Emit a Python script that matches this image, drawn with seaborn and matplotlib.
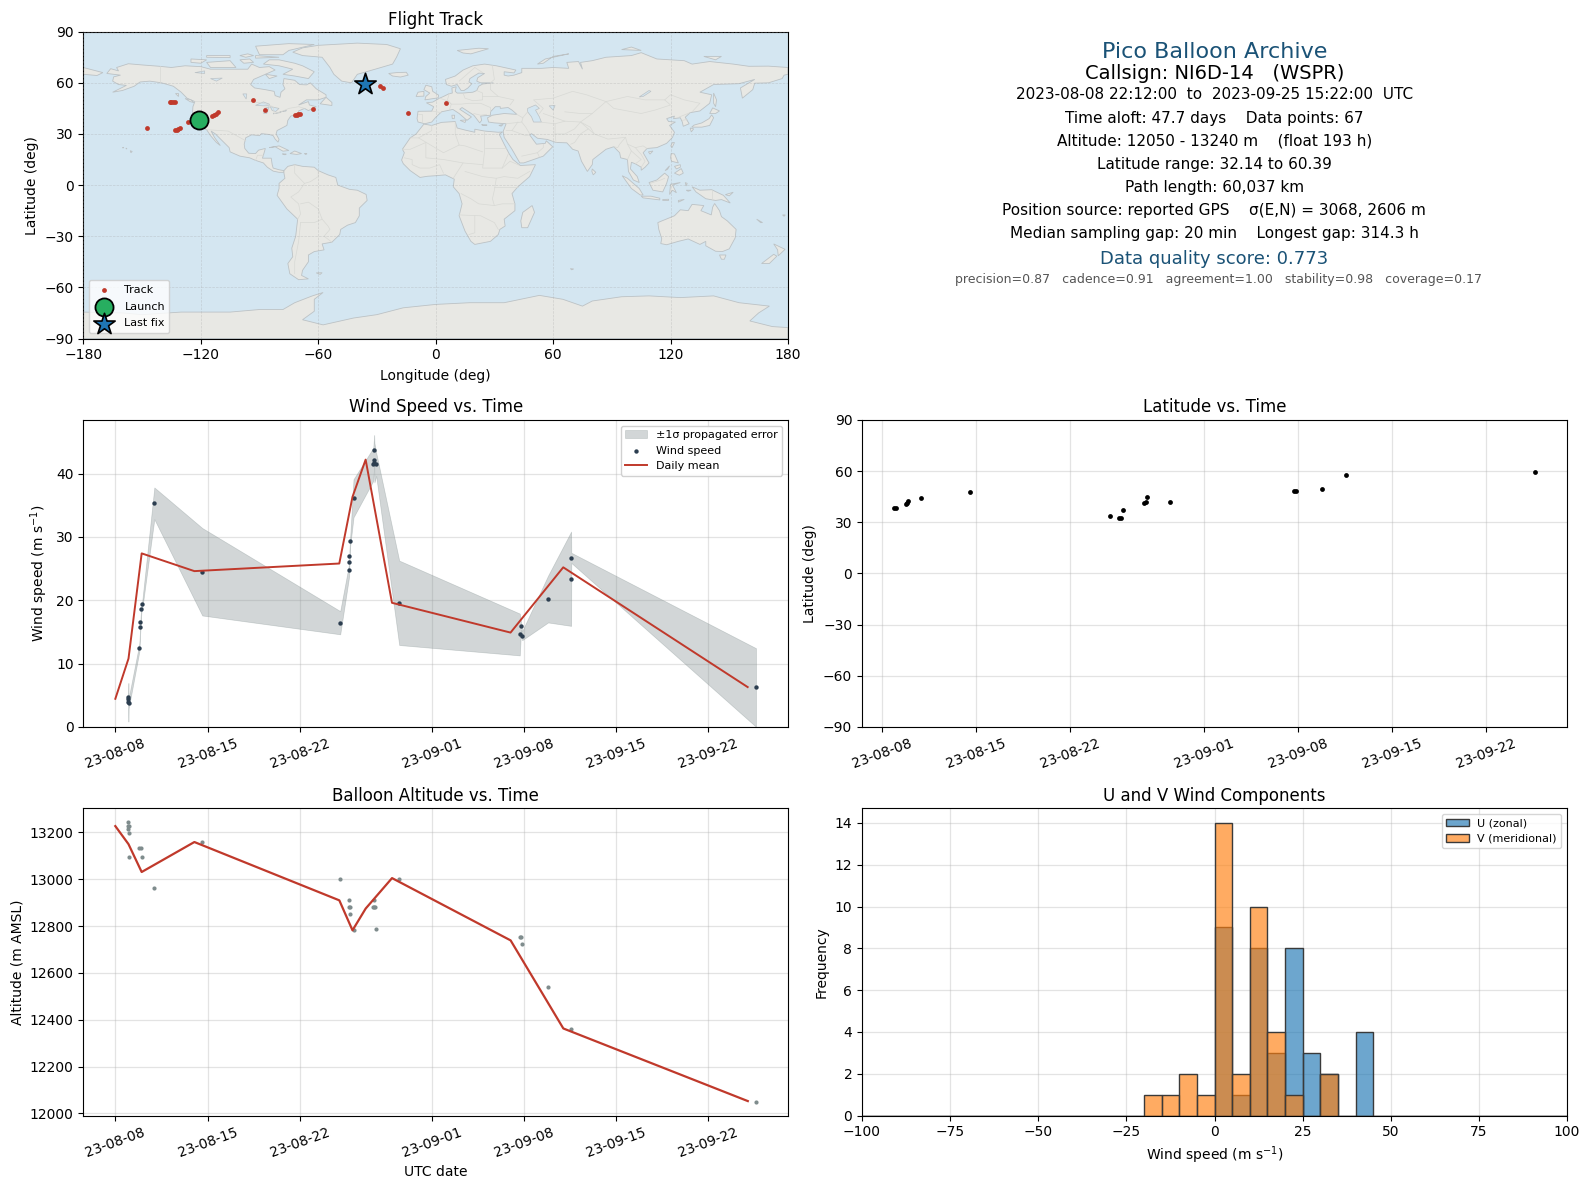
#!/usr/bin/env python3
# -*- coding: utf-8 -*-

import matplotlib
matplotlib.use('Agg')
import matplotlib.dates as mdates
import matplotlib.pyplot as plt
import numpy as np
import pandas as pd
import seaborn as sns

START = pd.Timestamp('2023-08-08')

# flight track, degrees
track_lon = [-147.3, -135.7, -135.0, -134.0, -133.2, -132.9, -132.3, -131.7, -130.6, -126.4,
             -114.0, -113.1, -112.3, -111.4, -93.2, -87.1, -71.9, -71.0, -70.2, -69.4,
             -62.6, -28.2, -26.8, -14.0, 5.4]
track_lat = [33.3, 48.5, 48.5, 48.5, 48.5, 32.2, 32.6, 32.9, 33.5, 37.0,
             40.7, 41.3, 41.9, 42.7, 49.7, 43.9, 41.3, 41.3, 41.7, 41.9,
             44.4, 58.1, 57.1, 42.1, 48.0]
launch_lon, launch_lat = [-120.8], [38.2]
last_lon, last_lat = [-36.2], [59.1]

# wind speed fixes, days since 2023-08-08
wind_day = [0.95, 0.97, 0.99, 1.01, 1.82, 1.90, 1.91, 1.98, 2.05, 2.96, 6.60, 17.07, 17.75, 17.76,
            17.77, 17.83, 18.08, 19.58, 19.65, 19.66, 19.67, 19.80, 21.55, 30.70, 30.80, 30.88,
            32.85, 34.60, 34.61, 48.63]
wind_ms = [4.7, 4.4, 3.9, 3.74, 12.5, 15.8, 16.6, 18.66, 19.4, 35.3, 24.5, 16.46, 24.8, 26.05,
           27.0, 29.35, 36.1, 41.46, 43.66, 42.2, 41.7, 41.46, 19.6, 14.6, 15.93, 14.4,
           20.2, 23.4, 26.7, 6.24]
wind_err = [0.8, 0.6, 3.04, 0.8, 0.6, 0.5, 0.6, 0.5, 0.6, 2.5, 6.9, 1.83, 1.0, 0.7,
            0.9, 0.7, 3.0, 2.6, 2.4, 3.1, 3.1, 1.83, 6.66, 3.3, 0.6, 0.7,
            3.7, 7.44, 0.8, 6.2]
wind_mean_day = [0, 1, 2, 6, 17, 18, 19, 21, 30, 34, 48]
wind_mean = [4.45, 10.8, 27.4, 24.6, 25.8, 36.3, 42.2, 19.6, 14.9, 25.2, 6.3]

# latitude fixes
lat_day = [0.90, 1.07, 1.82, 1.89, 2.00, 2.96, 6.60, 17.00, 17.64, 17.81, 17.98, 19.55, 19.65, 19.77,
           21.48, 30.69, 30.83, 32.80, 34.58, 48.64]
lat_deg = [38.2, 38.2, 40.6, 41.5, 42.5, 44.1, 47.6, 33.5, 32.4, 32.6, 37.0, 41.2, 41.7, 44.7,
           41.7, 48.2, 48.2, 49.4, 57.6, 59.3]

# altitude fixes
alt_day = [0.95, 0.93, 1.02, 0.95, 1.01, 1.02, 1.81, 1.96, 2.05, 2.96, 6.60, 17.07, 17.75, 17.76, 17.83,
           17.83, 18.08, 19.58, 19.65, 19.65, 19.67, 19.80, 21.55, 30.70, 30.80, 30.88,
           32.85, 34.60, 48.63]
alt_m = [13243, 13226, 13226, 13213, 13196, 13093, 13132, 13132, 13093, 12961, 13157, 13000, 12910, 12880, 12880,
         12850, 12782, 12880, 12910, 12880, 12880, 12786, 13000, 12752, 12752, 12722,
         12542, 12359, 12051]
alt_mean_day = [0, 1, 2, 6, 17, 18, 19, 21, 30, 34, 48]
alt_mean = [13227, 13150, 13031, 13159, 12910, 12782, 12875, 13005, 12739, 12363, 12053]

# wind component histogram, bin centres and counts
hist_edges = np.arange(-100, 105, 5)
u_centres = [2.5, 7.5, 12.5, 17.5, 22.5, 27.5, 32.5, 42.5]
u_counts = [9, 1, 8, 3, 8, 3, 2, 4]
v_centres = [-17.5, -12.5, -7.5, -2.5, 2.5, 7.5, 12.5, 17.5, 22.5, 32.5]
v_counts = [1, 1, 2, 1, 14, 2, 10, 4, 1, 2]

info_lines = [
    ('Pico Balloon Archive', 16, '#1a5276', 51.7, 0.5),
    ('Callsign: NI6D-14   (WSPR)', 14, 'black', 73.5, 0.5),
    ('2023-08-08 22:12:00  to  2023-09-25 15:22:00  UTC', 11, 'black', 95, 0.5),
    ('Time aloft: 47.7 days    Data points: 67', 11, 'black', 118, 0.5),
    ('Altitude: 12050 - 13240 m    (float 193 h)', 11, 'black', 141, 0.5),
    ('Latitude range: 32.14 to 60.39', 11, 'black', 164, 0.5),
    ('Path length: 60,037 km', 11, 'black', 187.7, 0.5),
    ('Position source: reported GPS    \u03c3(E,N) = 3068, 2606 m', 11, 'black', 210.7, 0.499),
    ('Median sampling gap: 20 min    Longest gap: 314.3 h', 11, 'black', 233.7, 0.5),
    ('Data quality score: 0.773', 13, '#1a5276', 258.5, 0.5),
    ('precision=0.87   cadence=0.91   agreement=1.00   stability=0.98   coverage=0.17', 9, '#555555', 279, 0.506),
]

# rough coastlines for the base map
land = [
    # north america
    [(-168, 65.5), (-166, 68.3), (-162, 67), (-163, 69), (-157, 71.2), (-150, 70.5), (-141, 69.7), (-135, 69),
     (-128, 70), (-120, 69.5), (-115, 68), (-108, 68), (-100, 68), (-96, 68), (-94, 71), (-90, 69), (-85, 69.5),
     (-82, 67.5), (-87, 65), (-93, 62), (-94.5, 59), (-92.5, 57), (-87, 56), (-82.5, 55), (-82, 52.5), (-79.5, 51.5),
     (-79, 54.5), (-77, 56.5), (-78, 59), (-77.5, 62.5), (-72, 61.5), (-69.5, 59), (-66, 58.8), (-64, 60), (-61, 56.5),
     (-56, 53), (-56, 51.5), (-60, 50), (-66, 50), (-70, 47), (-65, 49), (-64.5, 47), (-61, 46), (-65, 43.7), (-67, 45),
     (-70, 43.5), (-70, 41.7), (-74, 40.5), (-75.5, 38), (-76, 35), (-78, 33.8), (-81, 32), (-81.5, 30), (-80, 26.8),
     (-80.5, 25.2), (-82, 27), (-83, 29), (-85, 29.7), (-89, 30.2), (-90, 29), (-94, 29.5), (-97, 27.8), (-97.8, 24),
     (-97.5, 21.5), (-95.5, 18.7), (-92, 18.5), (-90.5, 20.5), (-87, 21.5), (-88, 17.5), (-88.5, 15.8), (-84, 15.8),
     (-83.5, 12), (-83, 10), (-80, 9), (-77.5, 8.5), (-77.5, 7.5), (-80, 7.5), (-83, 8.2), (-86, 10.5), (-88, 13),
     (-92, 14.5), (-95, 16), (-100, 17), (-105, 19.5), (-105.5, 22), (-109, 26), (-112.5, 30), (-114.7, 31.7),
     (-113, 28), (-110, 23.2), (-112, 25), (-115, 29), (-117, 32.5), (-120.5, 34.5), (-122.5, 37.5), (-124.3, 40.5),
     (-124, 46), (-123, 49), (-127, 51), (-130, 54.5), (-134, 58), (-140, 60), (-146, 61), (-151, 60.5), (-154, 58),
     (-160, 55.5), (-165, 54.5), (-158, 58.5), (-162, 59), (-165, 61), (-164.5, 63.5), (-161, 64.5)],
    # greenland
    [(-73, 78), (-68, 80.5), (-60, 82), (-40, 83.3), (-25, 82.5), (-18, 80), (-20, 75), (-22, 71), (-30, 68.3),
     (-40, 65), (-43, 60), (-48, 61), (-52, 65), (-54, 69), (-58, 75), (-68, 76)],
    # canadian arctic
    [(-80, 73.5), (-72, 71.5), (-68, 70), (-62, 66.5), (-65, 62.5), (-72, 64), (-78, 65), (-73, 68), (-80, 70),
     (-88, 71), (-85, 73.5)],
    [(-117, 72), (-105, 73), (-102, 69), (-115, 69)],
    [(-125, 74), (-117, 73.5), (-120, 71.5), (-125, 72)],
    [(-90, 76.5), (-78, 76.5), (-75, 79), (-62, 82.5), (-75, 83), (-92, 81.5)],
    [(-92, 76), (-80, 75), (-92, 74.5)],
    [(-117, 76), (-105, 76), (-105, 74.8), (-117, 75)],
    [(-100, 76), (-96, 77), (-93, 76), (-97, 75)],
    [(-100, 73.5), (-95, 74), (-93, 72), (-98, 71.5)],
    [(-87, 65), (-81, 64), (-85, 62.5)],
    [(-59, 47.7), (-53, 46.7), (-53, 48.5), (-56, 51.5)],
    [(-128, 50.8), (-125, 50), (-123.5, 48.4), (-125.5, 49)],
    [(-133, 54), (-131.5, 54), (-131.5, 52)],
    [(-24, 65.5), (-22, 64), (-18, 63.4), (-14, 64.5), (-15, 66.2), (-20, 66)],
    [(-85, 22), (-80, 23), (-75, 20.3), (-78, 19.9), (-82, 22.5)],
    [(-74.4, 18.5), (-72, 20), (-68.5, 18.5), (-71, 18)],
    [(-78.3, 18.3), (-76.3, 18.2), (-77, 17.8)],
    [(-67, 18.5), (-65.7, 18.4), (-66.5, 18)],
    [(-156, 20.2), (-155, 19.7), (-155.7, 19)],
    [(-158.2, 21.7), (-157.7, 21.4), (-158, 21.2)],
    [(-160, 21.9), (-159.4, 22.2), (-159.5, 21.8)],
    [(-61, -51.5), (-58, -51.4), (-59, -52.4)],
    # south america
    [(-77.5, 8.5), (-75.5, 11), (-72, 12), (-68, 11), (-62, 10.5), (-60, 8.5), (-55, 6), (-51, 4.5), (-50, 0),
     (-44, -2.5), (-40, -3), (-35.5, -5.5), (-35, -9), (-39, -13.5), (-39, -18), (-41, -22), (-45, -23.5), (-48.5, -26),
     (-49, -29), (-53, -33.5), (-58, -34.5), (-57, -38), (-62, -39), (-65, -41), (-65, -45), (-68, -50), (-68.5, -53),
     (-65, -55), (-70, -55.5), (-74.5, -52), (-75.5, -46), (-73, -42), (-73.5, -37), (-71.5, -30), (-70.5, -20),
     (-76, -14), (-81, -6), (-80, -2), (-80, 1), (-77, 4), (-77.5, 7)],
    # africa
    [(-6, 35.8), (-2, 35), (3, 36.8), (10, 37.3), (11, 33.5), (15, 32.3), (20, 31), (20, 32.8), (25, 31.7), (32, 31),
     (34.2, 31.2), (32.5, 29.8), (35, 24), (37.5, 18.5), (39.5, 15), (43.3, 11.5), (51, 12), (48, 5), (42, -1), (39, -5),
     (40.5, -11), (40.5, -15), (35, -20), (35.5, -24), (32.8, -26), (32, -29), (28, -33), (20, -34.8), (18, -33),
     (15, -27), (12, -18), (13.5, -11), (12, -5), (9, -1), (9.5, 3.5), (5, 6), (0, 5.5), (-4, 5.2), (-8, 4.5), (-13, 8.5),
     (-16.5, 12.5), (-17.4, 14.7), (-16, 19), (-17, 21), (-13, 27.7), (-10, 30)],
    [(49.3, -12), (50.5, -16), (47, -25), (44, -25), (43.5, -21), (44.5, -16)],
    # eurasia
    [(-5.5, 36), (-9, 37), (-9.5, 39), (-9, 43.3), (-2, 43.4), (-1, 46), (-4.7, 48.3), (-1.5, 48.7), (2, 51), (4, 52),
     (7, 53.7), (8.5, 54), (8.3, 57), (10.5, 57.7), (10, 55), (11, 54), (14, 54), (19, 54.5), (21, 55.5), (22, 58),
     (24, 59.3), (29.5, 60), (23, 60), (21, 61), (21.5, 63), (25, 65.5), (22, 65.7), (17.5, 62.5), (17, 60.5), (18.5, 59.5),
     (16.5, 57), (14.5, 55.5), (13, 55.5), (11, 59), (8, 58), (5.5, 59), (5, 62), (10, 64), (14, 67.5), (19, 70), (25, 71),
     (31, 70), (41, 67.5), (40, 65.8), (35, 66.5), (35, 64.5), (37, 64), (40, 64.5), (44, 66), (44, 68.5), (54, 68.5),
     (60, 69), (68, 68.5), (67, 72), (73, 72.5), (75, 68), (74, 72), (80, 73), (87, 75), (100, 76), (105, 77.7), (113, 74),
     (127, 73), (131, 71), (140, 72.5), (152, 71), (160, 69.7), (170, 69.8), (180, 69), (180, 65), (178, 64.5), (177, 62.5),
     (170, 60), (163, 59.8), (162, 56), (156.7, 51), (155.7, 57), (163, 62), (155, 59.5), (142, 59), (135, 54.5), (141, 53),
     (140, 48), (135, 43.5), (130, 42.5), (127.5, 39.8), (129.5, 36), (126.5, 34.5), (126, 37), (125, 39.5), (121.5, 39),
     (122, 40.5), (118, 39), (119, 37.3), (122.5, 37), (119.5, 35), (122, 31), (121, 28), (118, 24.5), (113, 22),
     (108, 21.5), (106, 19), (109, 13), (107, 10.5), (105, 8.7), (105, 10.5), (102, 12.5), (100, 13.4), (99.5, 9.5),
     (103, 5), (104, 1.5), (101, 3), (98.5, 8), (98, 15), (94.5, 16), (94, 19), (91, 22.5), (87, 21), (80.3, 15), (80, 12),
     (77.5, 8), (74.5, 14), (72.8, 20), (70, 21), (67, 24.8), (61.5, 25), (57, 26.8), (52, 27.5), (49, 30.2), (48, 29.5),
     (50.2, 26), (51.5, 24), (56, 24.5), (56.5, 26), (59.8, 22.5), (55, 17), (45, 13), (43, 13), (39, 21), (35, 28),
     (34.5, 31.5), (36, 36), (30, 36.5), (27, 37), (26.5, 39.5), (29, 41), (35, 42), (41.5, 41.5), (39, 44), (37, 45.5),
     (33, 45), (33, 46), (30.5, 46), (28, 43), (28, 41), (23, 40.5), (23.5, 38), (22.5, 36.5), (19.5, 41), (13.5, 45.5),
     (12.3, 44.5), (18.3, 40), (16, 38), (12, 42), (8.8, 44.4), (3, 43), (0, 39.7), (-2, 37)],
    [(-180, 69), (-170, 66), (-173, 64.3), (-180, 65)],
    [(-5.5, 50), (1.3, 51.2), (1.5, 52.8), (-1.5, 55), (-2, 57.7), (-5, 58.6), (-6, 56), (-3, 54), (-5, 52)],
    [(-10, 52), (-6, 52.2), (-6, 55), (-9, 54.5)],
    [(12.5, 38), (15.5, 38.2), (15, 36.7)],
    [(8.3, 41), (9.7, 41), (9.5, 39), (8.5, 39)],
    [(23.5, 35.5), (26.3, 35.2), (24, 35)],
    [(32.3, 35), (34.5, 35.6), (33.5, 34.6)],
    [(11, 79), (22, 80.3), (27, 80), (18, 77), (14, 77.5)],
    [(52, 71), (56, 74), (68, 77), (60, 75.5), (55, 71.5)],
    [(95, 79.5), (105, 79), (100, 81)],
    [(137, 75.5), (146, 75.5), (143, 73.5)],
    [(142, 54), (143.5, 50), (143, 46), (142, 48)],
    [(130.8, 34), (136, 34), (140, 35), (142, 39.5), (141, 41.2), (139.7, 39), (136, 36.5), (132, 35.2)],
    [(140, 42), (141.5, 45.3), (145, 43.5), (143, 42)],
    [(130, 33.5), (131.8, 33), (130.6, 31.2)],
    [(121, 25), (122, 25), (120.8, 22), (120.1, 23)],
    [(108.7, 19.5), (111, 20), (109.5, 18.2)],
    [(80, 9.5), (81.8, 7.5), (80.5, 6), (79.8, 8)],
    [(95.3, 5.5), (98, 4), (104, -2), (106, -5.8), (104.5, -5.8), (100, -2)],
    [(105, -6.5), (110, -6.5), (114.5, -7.7), (114.5, -8.7), (106, -7.5)],
    [(109, 1.5), (113, 3), (117, 7), (119, 5), (118, 1), (116, -4), (111, -3)],
    [(119.5, -5.5), (120, 0.5), (125, 1.5), (121, 0), (123, -4.5), (121, -3)],
    [(131, -1), (135, -3), (141, -2.7), (147, -6), (150.5, -10.5), (146, -8.5), (143, -9), (138, -8), (133, -4)],
    [(120.3, 18.5), (122, 18.3), (124, 13), (120.5, 14), (120, 16)],
    [(122, 7), (125.5, 9.7), (126.5, 7), (124.5, 5.8)],
    [(122, 11), (125, 12), (125, 10.5), (123, 9.5)],
    [(117.2, 8.5), (119.5, 11.3), (118.5, 9.3)],
    [(124, -10), (127, -8.4), (124, -9)],
    [(116, -8.5), (119, -8.3), (119, -9), (116, -9)],
    [(148, -5.6), (152, -4.2), (150, -6.3)],
    [(127.5, 1.5), (128.5, 1), (128, -0.5)],
    [(128, -3), (130.5, -3), (129, -3.6)],
    [(172.7, -34.5), (178.5, -37.7), (175, -41.5), (174.7, -38)],
    [(172.7, -40.6), (174.3, -41.7), (170.5, -46), (166.5, -46)],
    [(113.5, -22), (114, -26), (115.5, -31.5), (115, -34.3), (118, -35), (124, -33), (129, -31.6), (135, -34.8), (138, -33),
     (138, -35.6), (143, -38.8), (146.5, -39), (150, -37.4), (153, -31), (153.5, -26), (149, -21), (146, -18.5), (145, -15),
     (142.5, -10.8), (141.5, -13), (140.8, -17.5), (135.5, -15), (137, -12), (131, -11.3), (129, -15), (125, -14.5),
     (122, -18), (116, -20.8)],
    [(145, -41), (148.3, -41), (147.5, -43.5), (146, -43.5)],
    [(164, -20), (167, -22), (166, -22)],
    [(177.2, -17.5), (178.6, -17.5), (178, -18.3)],
    [(68.8, -49), (70.5, -49.2), (69.5, -49.7)],
    # antarctica
    [(-180, -74.5), (-160, -75), (-150, -76), (-130, -74.5), (-105, -74.5), (-90, -73), (-78, -73), (-72, -69),
     (-63, -65), (-57.5, -63), (-62, -67), (-62, -74), (-68, -79), (-57.5, -82), (-42, -78), (-30, -76), (-16.6, -72),
     (0, -70), (17.4, -69), (35, -69), (53, -64.7), (65, -67), (75, -71), (80, -68), (95, -65.5), (109, -65), (125, -66),
     (142, -65), (155, -69), (170.5, -71), (165, -75), (160.5, -79.7), (172, -83), (180, -83.6), (180, -90), (-180, -90)],
]
water = [
    [(47, 45), (51, 47), (53, 45), (51, 44), (53, 40), (54, 37), (50, 37), (49, 40), (47, 43)],
    [(58, 46.5), (61, 46.7), (60, 44)],
    [(104, 51.7), (109, 55.5), (110, 55), (106, 52)],
    [(-92, 46.8), (-88, 48.8), (-85, 47.5), (-85, 46.6), (-88, 46.5)],
    [(-87.8, 42), (-87.5, 45), (-85, 46), (-86.3, 42)],
    [(-84.5, 46), (-80, 45), (-81.7, 43.2), (-83.5, 43.8)],
    [(-83, 41.8), (-79, 43), (-76.2, 44), (-76.5, 43.4), (-79.5, 43.2), (-79, 42.6)],
    [(-123, 66), (-118, 67), (-118, 65.5)],
    [(-115, 62.5), (-109, 62.8), (-112, 61)],
    [(-98.5, 53.5), (-96.5, 53.5), (-96.8, 50.5)],
]
borders = [
    [(-123, 49), (-95, 49), (-88, 48), (-83, 46), (-82.5, 42), (-79, 43), (-75, 45), (-70, 46), (-67, 45)],
    [(-141, 69.7), (-141, 60)],
    [(-117, 32.5), (-106, 31.7), (-97, 26)],
    [(-92, 14.5), (-91, 17.5), (-88, 17.5)],
    [(-72, 12), (-72, 7), (-67, 1), (-70, -4), (-74, -7), (-70, -11), (-69, -17), (-70.5, -20)],
    [(-60, 8.5), (-60, 5), (-64, 2), (-67, 1)],
    [(-69, -11), (-65, -10), (-60, -14), (-58, -20), (-55, -24), (-54, -26), (-57, -30), (-53, -33.5)],
    [(-69, -22), (-62, -22), (-58, -20)],
    [(-69, -22), (-70, -33), (-72, -45), (-72, -52)],
    [(-13, 27.7), (-8.7, 27.7), (-2, 32), (-2, 35)],
    [(-8.7, 27.7), (4, 19), (12, 23.5), (10, 30), (10, 37)],
    [(25, 31.7), (25, 20), (24, 10), (34, 10), (37, 18)],
    [(25, 22), (36, 22)],
    [(12, 23.5), (15, 23), (24, 19.5)],
    [(-17, 21), (-13, 21), (-5, 25), (-5, 16), (4, 15), (14, 13), (24, 12)],
    [(-16, 16), (-12, 15), (-12, 12), (-8, 10), (-3, 10), (2, 12), (4, 7)],
    [(9, 4), (14, 13)],
    [(15, 8), (24, 5), (31, 4), (35, 5), (42, 4), (48, 8)],
    [(34, 10), (38, 14), (43, 11.5)],
    [(13, -5), (18, -8), (22, -11), (30, -12), (34, -11), (40.5, -11)],
    [(31, 4), (30, -3), (29, -8), (30, -12)],
    [(42, -1), (34, -1), (30, -1)],
    [(12, -17.5), (23, -18), (30, -22), (32, -26)],
    [(20, -18), (20, -28), (17, -29)],
    [(-1.8, 43.4), (3, 42.5)], [(-9, 42), (-7, 42), (-7, 37)],
    [(2, 51), (6, 49.5), (8, 47.5), (7, 44)],
    [(7, 53.7), (6, 50), (8, 47.5), (13, 47.5), (17, 48), (23, 48), (28, 45.5), (28, 43)],
    [(14, 54), (15, 51), (19, 49.5), (24, 50), (24, 54), (21, 55.5)],
    [(24, 52), (32, 52), (40, 50), (38, 47)],
    [(28, 60), (28, 56), (32, 52)],
    [(29, 70), (30, 62), (28, 60)],
    [(20, 69), (24, 66)], [(12, 61), (20, 69)],
    [(19.5, 42), (23, 41), (26, 41.5)],
    [(36, 36), (44, 37), (44.5, 39.5), (41.5, 41.5)],
    [(44.5, 39.5), (47, 43)],
    [(36, 32), (39, 32), (46, 29), (48, 29.5)],
    [(39, 32), (42, 37)],
    [(44, 37), (46, 34), (48, 30.2)],
    [(44, 17), (52, 19), (55, 22), (55, 24)], [(52, 19), (53, 16.5)],
    [(53, 37), (61, 36), (61, 30), (61.5, 25)],
    [(61, 36), (66, 37.5), (74, 37), (71, 33), (66, 30), (61, 30)],
    [(74, 37), (78, 33), (74, 30), (71, 25), (69, 24)],
    [(78, 33), (81, 30), (88, 27), (97, 28), (94, 24), (93, 22), (91, 22.5)],
    [(81, 30), (79, 34), (74, 37), (80, 42), (87, 49)],
    [(53, 42), (55, 45), (50, 50), (60, 51), (70, 55), (77, 53), (87, 49), (98, 52), (107, 50), (117, 50), (120, 53),
     (127, 50), (135, 48), (131, 43)],
    [(87, 49), (91, 45), (105, 42), (112, 44), (120, 47), (117, 50)],
    [(55, 42), (66, 37.5)], [(66, 43), (74, 42), (80, 42)],
    [(97, 28), (98, 24), (102, 22), (106, 23), (108, 21.5)],
    [(98, 24), (100, 20), (98, 15)],
    [(102, 22), (105, 18), (107, 14), (105, 10.5)],
    [(100, 20), (105, 15), (102, 12.5)],
    [(124.5, 40), (130, 42.5)], [(126, 38), (128.5, 38.5)],
    [(109.5, 1), (115, 3), (117, 4)],
    [(141, -2.7), (141, -9)],
]


def day_times(days):
    return START + pd.to_timedelta(days, unit='D')


def set_date_axis(ax):
    ax.xaxis.set_major_locator(mdates.DayLocator(bymonthday=[1, 8, 15, 22]))
    ax.xaxis.set_major_formatter(mdates.DateFormatter('%y-%m-%d'))
    plt.setp(ax.get_xticklabels(), rotation=20, ha='center')
    ax.tick_params(axis='both', labelsize=10)
    ax.grid(True, color='#b0b0b0', alpha=0.35, lw=0.9)
    ax.set_axisbelow(True)
    ax.set_xlabel('')


def place(left, top, right, bottom):
    w, h = 1590.0, 1189.0
    return fig.add_axes([left / w, 1 - bottom / h, (right - left) / w, (bottom - top) / h])


fig = plt.figure(figsize=(15.9, 11.89), dpi=100)

# flight track map
ax_map = place(83.3, 31.7, 788, 338.5)
ax_map.set_facecolor('#d4e6f1')
for poly in land:
    xy = np.array(poly)
    ax_map.fill(xy[:, 0], xy[:, 1], fc='#e8e8e4', ec='#bcc2c5', lw=0.6, zorder=1)
for poly in water:
    xy = np.array(poly)
    ax_map.fill(xy[:, 0], xy[:, 1], fc='#d4e6f1', ec='#bcc2c5', lw=0.5, zorder=1.1)
for line in borders:
    xy = np.array(line)
    ax_map.plot(xy[:, 0], xy[:, 1], color='#d8d9d5', lw=0.5, zorder=1.2)
sns.scatterplot(x=track_lon, y=track_lat, ax=ax_map, color='#c0392b', s=12, linewidth=0, label='Track', zorder=4)
sns.scatterplot(x=launch_lon, y=launch_lat, ax=ax_map, color='#27ae60', s=170, edgecolor='black', linewidth=1.3,
                label='Launch', zorder=5)
sns.scatterplot(x=last_lon, y=last_lat, ax=ax_map, color='#1f77b4', s=260, marker='*', edgecolor='black',
                linewidth=1.2, label='Last fix', zorder=6)
ax_map.set_xlim(-180, 180)
ax_map.set_ylim(-90, 90)
ax_map.set_xticks(np.arange(-180, 181, 60))
ax_map.set_yticks(np.arange(-90, 91, 30))
ax_map.grid(True, color='#a0a0a0', alpha=0.35, lw=0.5, ls='--', zorder=2)
ax_map.set_axisbelow(False)
ax_map.set_xlabel('Longitude (deg)', fontsize=10, labelpad=5)
ax_map.set_ylabel('Latitude (deg)', fontsize=10)
ax_map.set_title('Flight Track', fontsize=12, pad=5)
ax_map.legend(loc='lower left', fontsize=8, framealpha=0.8, labelspacing=0.62, borderpad=0.4)

# text block
ax_info = place(862, 31.7, 1567, 338.5)
ax_info.axis('off')
for text, size, color, y_px, x_frac in info_lines:
    ax_info.text(x_frac, (338.5 - y_px) / 306.8, text, fontsize=size, color=color, ha='center', va='center',
                 transform=ax_info.transAxes)

# wind speed
ax_wind = place(83.3, 420, 788, 727)
w_t = day_times(wind_day)
w_arr = np.array(wind_ms)
w_err = np.array(wind_err)
ax_wind.fill_between(w_t, w_arr - w_err, w_arr + w_err, color='#7f8c8d', alpha=0.35, lw=0.5,
                     label='\u00b11\u03c3 propagated error')
sns.scatterplot(x=w_t, y=wind_ms, ax=ax_wind, color='#2c3e50', s=10, linewidth=0, label='Wind speed', zorder=3)
sns.lineplot(x=day_times(wind_mean_day), y=wind_mean, ax=ax_wind, color='#c0392b', lw=1.4, label='Daily mean',
             estimator=None, sort=False, zorder=4)
ax_wind.set_ylim(0, 48.45)
set_date_axis(ax_wind)
ax_wind.set_ylabel('Wind speed (m s$^{-1}$)', fontsize=10)
ax_wind.set_title('Wind Speed vs. Time', fontsize=12)
ax_wind.legend(loc='upper right', fontsize=8, framealpha=0.9)

# latitude
ax_lat = place(862, 420, 1567, 727)
sns.scatterplot(x=day_times(lat_day), y=lat_deg, ax=ax_lat, color='black', s=12, linewidth=0, zorder=3)
ax_lat.set_xlim(START + pd.Timedelta(days=-1.46), START + pd.Timedelta(days=51.0))
ax_lat.set_ylim(-90, 90)
ax_lat.set_yticks(np.arange(-90, 91, 30))
set_date_axis(ax_lat)
ax_lat.set_ylabel('Latitude (deg)', fontsize=10)
ax_lat.set_title('Latitude vs. Time', fontsize=12)

# altitude
ax_alt = place(83.3, 808.3, 788, 1115.6)
sns.scatterplot(x=day_times(alt_day), y=alt_m, ax=ax_alt, color='#7f8c8d', s=9, linewidth=0, zorder=3)
sns.lineplot(x=day_times(alt_mean_day), y=alt_mean, ax=ax_alt, color='#c0392b', lw=1.6, estimator=None, sort=False,
             zorder=4)
ax_alt.set_xlim(START + pd.Timedelta(days=-2.43), START + pd.Timedelta(days=51.05))
ax_alt.set_ylim(11991, 13303)
set_date_axis(ax_alt)
ax_alt.set_xlabel('UTC date', fontsize=10)
ax_alt.set_ylabel('Altitude (m AMSL)', fontsize=10)
ax_alt.set_title('Balloon Altitude vs. Time', fontsize=12, pad=5)

# wind components
ax_hist = place(862, 808.3, 1567, 1115.6)
sns.histplot(x=np.repeat(u_centres, u_counts), bins=hist_edges, ax=ax_hist, color='#1f77b4', alpha=0.65,
             edgecolor='#3a3a3a', linewidth=1.0, label='U (zonal)')
sns.histplot(x=np.repeat(v_centres, v_counts), bins=hist_edges, ax=ax_hist, color='#ff7f0e', alpha=0.65,
             edgecolor='#3a3a3a', linewidth=1.0, label='V (meridional)')
ax_hist.set_xlim(-100, 100)
ax_hist.set_ylim(0, 14.7)
ax_hist.grid(True, color='#b0b0b0', alpha=0.35, lw=0.9)
ax_hist.set_axisbelow(True)
ax_hist.tick_params(axis='both', labelsize=10)
ax_hist.set_xlabel('Wind speed (m s$^{-1}$)', fontsize=10)
ax_hist.set_ylabel('Frequency', fontsize=10)
ax_hist.set_title('U and V Wind Components', fontsize=12, pad=5)
ax_hist.legend(loc='upper right', fontsize=8)

fig.savefig('out.png', dpi=100)
